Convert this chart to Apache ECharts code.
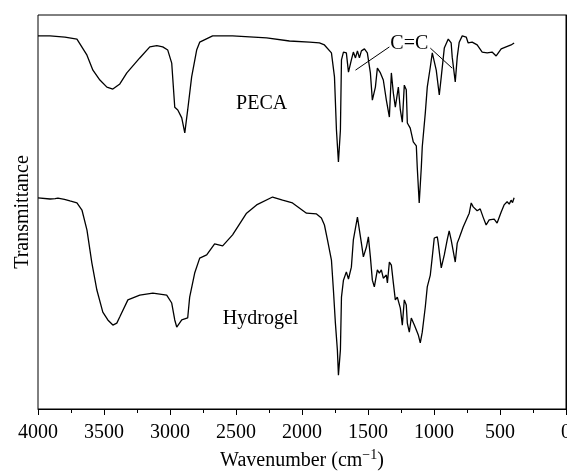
<!DOCTYPE html>
<html>
<head>
<meta charset="utf-8">
<script src="https://cdn.jsdelivr.net/npm/echarts@6/dist/echarts.min.js"></script>
<style>
  html, body { margin: 0; padding: 0; background: #fff; }
  #chart { width: 567px; height: 474px; }
</style>
</head>
<body>
<div id="chart"></div>
<script>
// FTIR spectra, transmittance in arbitrary units (0 = bottom of frame, 100 = top)
var pecaWn = [4000, 3909, 3796, 3705, 3629, 3584, 3531, 3478, 3433, 3380, 3327, 3229, 3153, 3100, 3055, 3017,
  2987, 2964, 2941, 2911, 2888, 2866, 2836, 2798, 2775, 2677, 2526, 2268, 2095, 1943, 1868, 1830, 1777, 1754,
  1739, 1724, 1709, 1701, 1686, 1664, 1648, 1626, 1611, 1595, 1580, 1565, 1550, 1527, 1505, 1482, 1467, 1444,
  1429, 1406, 1384, 1361, 1338, 1323, 1308, 1293, 1270, 1255, 1240, 1225, 1210, 1202, 1180, 1157, 1134, 1127,
  1112, 1096, 1089, 1066, 1051, 1028, 1013, 998, 983, 960, 945, 922, 892, 870, 862, 839, 824, 809, 786, 756,
  741, 711, 673, 635, 597, 560, 529, 491, 454, 416, 393];
var pecaT = [94.7, 94.7, 94.4, 93.9, 89.8, 86.0, 83.5, 81.7, 81.2, 82.5, 85.3, 89.1, 91.9, 92.2, 91.9, 91.1,
  87.8, 76.6, 75.9, 73.9, 70.1, 75.9, 84.3, 91.1, 93.1, 94.7, 94.7, 94.2, 93.4, 93.1, 92.9, 92.4, 90.4, 84.3,
  70.8, 62.7, 70.8, 88.6, 90.6, 90.4, 85.5, 88.6, 90.6, 89.1, 90.9, 89.1, 90.9, 91.4, 90.4, 85.3, 78.4, 81.7,
  86.5, 85.3, 83.5, 78.4, 74.1, 85.3, 80.2, 76.6, 81.7, 75.9, 72.8, 82.2, 81.0, 72.6, 71.3, 67.8, 66.8, 61.4,
  52.3, 61.4, 66.5, 75.1, 81.7, 86.8, 90.4, 90.6, 86.0, 79.7, 84.3, 91.6, 93.9, 92.9, 89.3, 83.0, 89.3, 93.1, 94.7, 94.4,
  92.9, 93.1, 92.4, 90.6, 90.4, 90.6, 89.6, 91.4, 91.9, 92.4, 92.9];

var gelWn = [4000, 3909, 3870, 3855, 3849, 3834, 3800, 3758, 3705, 3667, 3629, 3592, 3554, 3509, 3471, 3433, 3403, 3380,
  3319, 3229, 3130, 3025, 2987, 2964, 2949, 2911, 2866, 2851, 2813, 2775, 2722, 2662, 2601, 2526, 2420, 2344,
  2223, 2147, 2072, 1966, 1890, 1853, 1830, 1807, 1777, 1762, 1747, 1732, 1724, 1709, 1701, 1686, 1664, 1648,
  1626, 1611, 1580, 1573, 1550, 1535, 1512, 1497, 1482, 1467, 1452, 1429, 1414, 1399, 1384, 1361, 1353, 1338,
  1323, 1308, 1293, 1278, 1255, 1240, 1225, 1210, 1202, 1187, 1172, 1149, 1127, 1119, 1104, 1089, 1066, 1051,
  1028, 1013, 998, 975, 968, 945, 922, 900, 885, 870, 839, 824, 809, 779, 749, 733, 718, 703, 673, 650, 628,
  605, 582, 544, 522, 491, 469, 446, 430, 416, 405, 393];
var gelT = [53.6, 53.3, 53.4, 52.9, 53.5, 53.0, 53.2, 52.8, 52.3, 50.5, 45.4, 37.1, 30.2, 24.6, 22.6, 21.3, 21.8, 23.4,
  27.7, 28.9, 29.4, 28.9, 26.9, 22.6, 20.8, 22.6, 23.1, 28.4, 34.5, 38.3, 39.1, 41.9, 41.4, 44.2, 49.7, 51.8,
  53.8, 53.0, 52.3, 49.7, 49.5, 48.5, 46.7, 42.9, 37.8, 30.2, 21.8, 15.0, 8.6, 15.0, 28.4, 32.7, 34.8, 33.0,
  36.0, 42.9, 48.7, 47.2, 42.1, 38.6, 41.1, 43.7, 38.6, 32.7, 31.0, 35.3, 34.5, 35.3, 33.2, 34.0, 32.0, 37.3,
  36.5, 32.0, 27.7, 28.4, 25.6, 21.3, 27.7, 26.4, 21.8, 19.5, 23.1, 21.3, 19.5, 18.8, 16.8, 19.5, 25.9, 31.0,
  34.0, 38.6, 43.4, 43.7, 42.1, 35.8, 39.1, 42.9, 45.2, 42.9, 37.3, 42.1, 43.4, 46.2, 48.5, 49.7, 52.3, 51.3, 50.3, 50.8, 48.7,
  46.7, 48.0, 48.2, 47.2, 50.0, 51.8, 52.6, 52.0, 53.0, 52.4, 53.6];

// annotation positions in data units [wavenumber, transmittance]
var pecaLabelAt = [2306, 77.4];
var gelLabelAt = [2314, 22.9];
var ccLabelAt = [1187, 92.8];
var ccLeftLine = [[1595, 86.0], [1338, 91.9]];
var ccRightLine = [[1028, 91.6], [862, 86.5]];

function zip(xs, ys) {
  return xs.map(function (x, i) { return [x, ys[i]]; });
}

var FONT = 'Liberation Serif';
var textStyle = { color: '#000', fontFamily: FONT, fontSize: 20 };

var chart = echarts.init(document.getElementById('chart'));
chart.setOption({
  animation: false,
  backgroundColor: '#fff',
  grid: {
    left: 38, right: 1, top: 15, bottom: 65, show: true, borderColor: '#000', borderWidth: 1,
    outerBoundsMode: 'none'
  },
  xAxis: {
    type: 'value', inverse: true, min: 0, max: 4000, interval: 500,
    axisLine: { show: true, lineStyle: { color: '#000', width: 1 } },
    axisTick: { show: true, length: 6, lineStyle: { color: '#000' } },
    minorTick: { show: true, splitNumber: 2, length: 4, lineStyle: { color: '#000' } },
    splitLine: { show: false },
    axisLabel: {
      color: '#000', fontFamily: FONT, fontSize: 20, margin: 14,
      formatter: function (v) { return String(v); }
    },
    name: 'Wavenumber (cm{sup|\u22121})',
    nameLocation: 'middle',
    nameGap: 34,
    nameTextStyle: {
      color: '#000', fontFamily: FONT, fontSize: 20,
      rich: { sup: { fontFamily: FONT, fontSize: 14, color: '#000', verticalAlign: 'top', padding: [0, 0, 12, 0] } }
    }
  },
  yAxis: {
    type: 'value', min: 0, max: 100,
    axisLine: { show: true, lineStyle: { color: '#000', width: 1 } },
    axisTick: { show: false },
    axisLabel: { show: false },
    splitLine: { show: false },
    name: 'Transmittance',
    nameLocation: 'middle',
    nameGap: 5,
    nameTextStyle: textStyle
  },
  series: [
    {
      name: 'PECA', type: 'line', symbol: 'none',
      lineStyle: { color: '#000', width: 1.3 },
      data: zip(pecaWn, pecaT),
      markPoint: {
        symbol: 'circle', symbolSize: 0, silent: true,
        label: Object.assign({ show: true, position: 'inside', formatter: '{b}' }, textStyle),
        data: [
          { name: 'PECA', coord: pecaLabelAt },
          { name: 'C=C', coord: ccLabelAt }
        ]
      },
      markLine: {
        symbol: ['none', 'none'], silent: true,
        label: { show: false },
        lineStyle: { color: '#000', width: 1, type: 'solid' },
        data: [
          [{ coord: ccLeftLine[0] }, { coord: ccLeftLine[1] }],
          [{ coord: ccRightLine[0] }, { coord: ccRightLine[1] }]
        ]
      }
    },
    {
      name: 'Hydrogel', type: 'line', symbol: 'none',
      lineStyle: { color: '#000', width: 1.3 },
      data: zip(gelWn, gelT),
      markPoint: {
        symbol: 'circle', symbolSize: 0, silent: true,
        label: Object.assign({ show: true, position: 'inside', formatter: '{b}' }, textStyle),
        data: [{ name: 'Hydrogel', coord: gelLabelAt }]
      }
    }
  ]
});
</script>
</body>
</html>
